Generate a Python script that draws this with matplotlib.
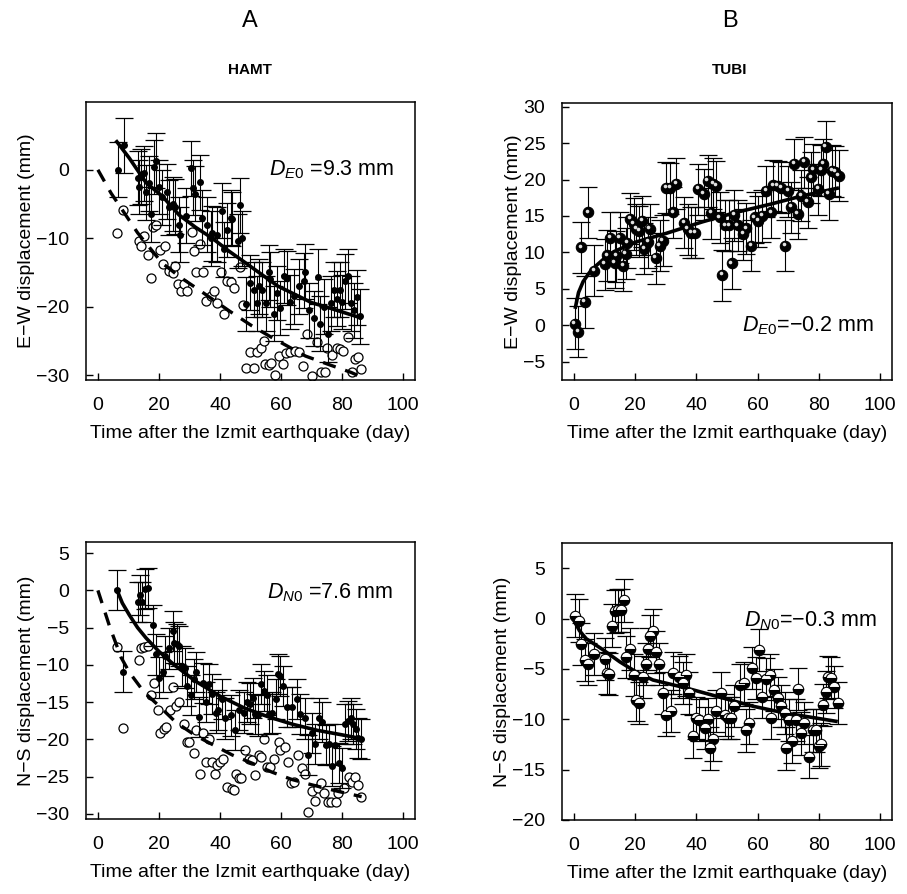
import numpy as np
import matplotlib
matplotlib.use('Agg')
import matplotlib.pyplot as plt
from matplotlib.transforms import offset_copy

plt.rcParams['font.family'] = ['Liberation Sans', 'DejaVu Sans']
plt.rcParams['mathtext.fontset'] = 'custom'
plt.rcParams['mathtext.it'] = 'Liberation Sans:italic'
plt.rcParams['mathtext.rm'] = 'Liberation Sans'

# ---- HAMT, E-W (panel A top) ----
hamt_ew_day = [6.5, 8.4, 13.0, 13.6, 14.0, 15.0, 15.8, 16.8, 17.4, 18.5,
               19.2, 20.0, 21.0, 22.5, 23.4, 24.5, 25.3, 26.6, 27.0, 28.8,
               30.4, 31.3, 31.8, 33.3, 34.2, 35.9, 37.0, 37.5, 39.0, 40.5,
               41.3, 42.4, 43.5, 44.0, 46.0, 46.4, 47.3, 48.4, 50.0, 51.0,
               52.0, 52.7, 53.8, 55.0, 56.0, 56.5, 57.6, 58.7, 59.8, 60.9,
               62.0, 63.0, 64.1, 65.8, 67.4, 68.0, 69.2, 70.7, 72.0, 72.8,
               74.2, 75.5, 76.4, 77.2, 78.3, 79.3, 80.0, 81.0, 82.0, 83.0,
               84.0, 85.0, 86.0]
hamt_ew_val = [0.0, 3.6, -1.2, -2.5, -1.0, -0.5, -3.3, -2.0, -6.5, 0.4,
               1.3, -2.5, -4.0, -3.2, -5.5, -5.0, -5.4, -8.0, -9.5, -6.7,
               0.2, -2.6, -3.5, -1.8, -7.0, -8.0, -10.0, -9.3, -9.5, -6.0,
               -11.6, -8.8, -7.0, -7.2, -10.4, -5.2, -10.0, -19.6, -16.5, -17.5,
               -19.5, -17.0, -17.5, -19.5, -15.0, -16.0, -21.0, -18.0, -20.2, -15.5,
               -15.8, -19.3, -18.5, -17.0, -16.2, -14.9, -20.5, -21.7, -15.6, -22.5,
               -20.0, -24.0, -19.5, -17.5, -18.8, -17.5, -19.3, -16.3, -15.5, -19.5,
               -20.5, -18.6, -21.4]
hamt_ew_err = 4.0

hamt_ew_open_day = [6.2, 8.2, 13.6, 14.1, 15.2, 16.3, 17.4, 18.2, 19.2, 20.3,
                    21.2, 22.1, 23.4, 24.5, 25.3, 26.1, 27.2, 28.3, 29.3, 30.8,
                    31.5, 32.3, 33.4, 34.5, 35.3, 37.0, 38.0, 39.1, 40.2, 41.3,
                    42.4, 43.5, 44.6, 46.4, 47.5, 48.6, 50.0, 51.1, 52.2, 53.3,
                    54.3, 54.9, 56.0, 56.8, 57.9, 59.2, 60.5, 61.6, 63.0, 64.5,
                    65.8, 67.1, 68.5, 70.1, 71.7, 73.2, 74.5, 75.0, 76.6, 78.3,
                    79.3, 80.4, 81.8, 83.2, 84.2, 85.1, 86.2]
hamt_ew_open_val = [-9.2, -5.8, -10.4, -11.1, -9.7, -12.5, -15.8, -8.3, -8.0, -11.7,
                    -13.7, -11.1, -14.8, -15.1, -14.1, -16.7, -17.7, -16.7, -17.7, -9.1,
                    -11.9, -15.0, -10.9, -15.0, -19.2, -18.5, -17.7, -19.4, -15.0, -21.1,
                    -16.3, -16.4, -17.2, -14.2, -19.7, -29.0, -26.6, -29.0, -26.6, -26.0,
                    -25.0, -28.4, -28.5, -28.2, -30.0, -27.2, -28.3, -26.7, -26.6, -26.5,
                    -26.6, -28.6, -24.0, -30.1, -25.1, -29.5, -29.6, -26.0, -27.1, -26.0,
                    -26.1, -26.5, -24.4, -29.6, -27.7, -27.4, -29.1]

hamt_ew_fit_day = [6.2, 10.3, 15.8, 21.2, 26.6, 32.0, 37.5, 43.0, 48.4, 54.0,
                   59.0, 65.0, 70.0, 76.0, 81.0, 86.0]
hamt_ew_fit_val = [4.1, 1.7, -1.9, -3.9, -6.6, -8.4, -10.0, -11.9, -13.6, -15.4,
                   -17.0, -18.3, -19.4, -20.2, -20.9, -21.6]
hamt_ew_dash_day = [0.0, 4.3, 8.2, 13.0, 21.0, 27.0, 33.0, 43.0, 50.5, 57.0,
                    68.0, 76.0, 83.0, 86.0]
hamt_ew_dash_val = [0.0, -3.4, -6.0, -9.2, -13.6, -15.7, -17.5, -20.6, -22.8, -24.5,
                    -27.2, -28.5, -29.6, -30.2]

# ---- HAMT, N-S (panel A bottom) ----
hamt_ns_day = [6.2, 8.2, 13.0, 13.8, 14.6, 15.5, 16.3, 18.2, 19.2, 20.1,
               21.2, 22.0, 23.4, 24.5, 25.0, 25.8, 26.6, 27.7, 28.6, 29.3,
               30.4, 31.5, 32.3, 33.2, 34.5, 35.3, 36.4, 37.3, 38.6, 39.5,
               40.8, 41.8, 43.5, 44.9, 46.2, 47.8, 48.9, 49.7, 50.8, 51.6,
               52.5, 53.6, 54.3, 55.4, 56.2, 57.1, 58.2, 59.0, 59.8, 60.5,
               62.0, 63.6, 65.2, 66.3, 67.9, 69.0, 70.1, 71.2, 72.3, 73.4,
               74.7, 75.8, 76.6, 77.7, 79.0, 80.1, 81.0, 81.8, 82.9, 83.7,
               84.5, 85.3, 86.2]
hamt_ns_val = [0.1, -10.9, -1.6, -0.6, -1.6, 0.2, 0.3, -4.7, -8.6, -11.7,
               -11.0, -8.8, -7.8, -5.5, -7.0, -7.2, -7.5, -10.1, -10.4, -12.8,
               -14.1, -11.9, -11.0, -17.0, -12.4, -15.0, -12.6, -13.9, -16.4, -16.1,
               -14.6, -17.2, -16.8, -18.8, -16.1, -16.4, -15.0, -15.2, -14.4, -16.6,
               -16.8, -12.6, -13.5, -14.1, -16.6, -16.4, -14.6, -11.2, -11.5, -12.8,
               -15.7, -15.7, -14.6, -16.6, -17.2, -22.1, -19.2, -20.6, -17.2, -17.7,
               -20.8, -20.6, -23.6, -20.7, -23.2, -23.8, -17.9, -17.5, -17.2, -17.9,
               -18.6, -19.8, -20.0]
hamt_ns_err = 2.7

hamt_ns_open_day = [6.2, 8.2, 13.6, 14.1, 15.2, 16.3, 17.4, 18.5, 19.6, 20.3,
                    21.7, 22.2, 23.6, 24.5, 25.5, 26.6, 28.3, 29.3, 29.9, 31.5,
                    32.0, 33.4, 34.5, 35.3, 36.4, 37.3, 38.4, 39.1, 39.9, 41.0,
                    42.4, 43.8, 44.6, 45.1, 46.2, 47.0, 48.2, 49.5, 50.5, 51.6,
                    52.7, 53.6, 54.3, 55.4, 56.5, 57.6, 59.2, 59.8, 61.2, 62.3,
                    63.4, 64.1, 65.5, 66.8, 67.7, 68.8, 70.1, 71.0, 72.0, 73.2,
                    74.2, 75.3, 76.4, 77.9, 78.8, 80.8, 82.3, 83.2, 84.2, 85.3,
                    86.2]
hamt_ns_open_val = [-7.6, -18.5, -9.3, -7.8, -7.6, -7.5, -14.0, -12.4, -16.1, -19.2,
                    -18.6, -18.4, -16.0, -13.0, -15.5, -15.0, -17.9, -20.4, -20.3, -21.9,
                    -18.8, -24.7, -19.2, -23.0, -19.9, -23.0, -24.6, -23.5, -23.0, -22.6,
                    -26.4, -26.7, -26.8, -24.6, -25.2, -25.2, -21.5, -22.6, -22.8, -24.8,
                    -22.1, -22.4, -19.9, -23.7, -23.7, -22.6, -20.4, -21.5, -21.0, -23.0,
                    -25.9, -25.7, -22.1, -23.9, -24.6, -29.7, -27.0, -28.3, -26.6, -25.9,
                    -27.2, -28.4, -28.4, -28.4, -27.2, -26.6, -25.0, -25.7, -25.0, -26.1,
                    -27.7]

hamt_ns_fit_day = [6.2, 8.0, 10.3, 13.0, 15.8, 20.0, 25.0, 32.0, 40.0, 48.0,
                   56.0, 64.0, 72.0, 80.0, 86.2]
hamt_ns_fit_val = [0.1, -1.7, -3.3, -5.0, -6.4, -8.2, -10.0, -12.2, -14.2, -15.8,
                   -17.0, -18.0, -18.8, -19.4, -19.9]
hamt_ns_dash_day = [0.0, 3.8, 7.6, 10.3, 15.2, 20.0, 25.5, 32.0, 38.0, 44.0,
                    50.5, 57.0, 63.6, 70.0, 78.8, 86.4]
hamt_ns_dash_val = [0.0, -4.8, -9.0, -11.0, -13.7, -15.5, -17.7, -19.5, -20.8, -22.1,
                    -23.2, -24.4, -25.4, -26.1, -27.0, -27.7]

# ---- TUBI, E-W (panel B top) ----
tubi_ew_day = [0.2, 1.3, 2.4, 3.5, 4.6, 6.7, 10.0, 10.8, 11.9, 13.3,
               13.8, 14.9, 16.0, 16.9, 17.4, 18.4, 19.5, 20.3, 21.4, 22.3,
               23.0, 24.2, 24.7, 26.7, 28.0, 29.0, 30.1, 31.4, 32.5, 33.4,
               36.1, 37.2, 38.3, 39.6, 40.5, 42.4, 43.7, 44.8, 45.4, 46.5,
               47.6, 48.4, 49.5, 50.8, 51.5, 52.4, 53.5, 55.2, 56.3, 57.9,
               59.0, 60.1, 61.5, 62.8, 64.4, 65.0, 66.6, 67.7, 69.1, 69.9,
               71.0, 72.0, 73.1, 74.2, 75.3, 76.4, 77.5, 78.2, 79.7, 80.7,
               81.5, 82.2, 83.2, 84.3, 85.4, 86.5]
tubi_ew_val = [0.2, -0.9, 10.7, 3.2, 15.5, 7.5, 8.4, 9.6, 12.0, 8.6,
               9.5, 12.0, 8.2, 9.8, 11.3, 14.6, 13.9, 13.2, 12.9, 14.3,
               10.5, 11.4, 13.2, 9.2, 10.9, 11.6, 18.9, 18.8, 15.5, 19.4,
               14.1, 13.2, 12.7, 12.7, 18.7, 18.0, 19.8, 15.4, 19.4, 19.1,
               14.8, 6.9, 13.7, 13.7, 8.5, 15.1, 13.7, 12.5, 13.3, 10.9,
               14.8, 14.3, 15.0, 18.4, 15.5, 19.2, 19.1, 18.9, 10.9, 18.4,
               16.2, 22.1, 15.3, 17.8, 22.4, 16.9, 20.3, 21.4, 18.7, 21.3,
               22.1, 24.5, 18.0, 21.2, 21.1, 20.5]
tubi_ew_err = 3.5

tubi_ew_fit_day = [0.5, 1.5, 3.0, 5.0, 7.3, 10.0, 13.0, 20.0, 30.0, 42.0,
                   53.0, 64.0, 75.0, 86.0]
tubi_ew_fit_val = [2.5, 4.5, 6.0, 7.2, 8.2, 9.2, 10.1, 11.4, 12.6, 14.2,
                   15.5, 16.6, 17.8, 18.8]

# ---- TUBI, N-S (panel B bottom) ----
tubi_ns_day = [0.2, 1.8, 2.4, 3.5, 4.6, 6.4, 10.0, 10.8, 11.6, 12.5,
               13.3, 14.4, 15.5, 16.5, 17.1, 18.4, 19.5, 20.3, 21.4, 22.5,
               23.4, 24.2, 24.9, 25.8, 26.9, 27.7, 29.1, 30.1, 31.8, 32.5,
               34.3, 35.6, 36.7, 37.5, 38.8, 39.9, 41.0, 42.7, 43.7, 44.3,
               45.4, 46.5, 48.1, 49.2, 50.3, 51.4, 52.4, 54.1, 55.4, 56.3,
               57.3, 58.2, 59.5, 60.4, 61.5, 62.6, 63.9, 64.4, 65.5, 66.6,
               67.7, 68.8, 69.3, 70.4, 71.3, 72.4, 73.1, 74.2, 75.3, 76.9,
               78.2, 79.1, 80.0, 80.7, 81.5, 82.2, 82.9, 84.0, 84.8, 86.2]
tubi_ns_val = [0.3, -0.2, -2.5, -4.1, -4.5, -3.5, -4.0, -5.4, -5.5, -0.7,
               0.7, 0.8, 0.8, 1.8, -3.8, -3.0, -5.6, -8.1, -8.4, -5.8,
               -4.5, -3.0, -1.7, -1.2, -3.3, -4.5, -7.4, -9.6, -9.2, -5.4,
               -5.8, -6.4, -5.6, -7.4, -11.7, -9.9, -10.1, -10.9, -10.0, -12.9,
               -12.0, -9.2, -7.4, -9.6, -9.9, -9.9, -8.7, -6.6, -6.4, -11.1,
               -10.4, -4.9, -5.9, -3.1, -7.8, -6.0, -5.6, -9.9, -7.1, -7.9,
               -8.7, -9.4, -12.9, -10.1, -12.2, -10.1, -7.0, -11.4, -10.4, -13.7,
               -11.1, -11.1, -12.7, -12.5, -8.6, -7.3, -5.8, -5.9, -6.8, -8.4]
tubi_ns_err = 2.1

tubi_ns_fit_day = [0.2, 1.8, 4.0, 9.5, 15.0, 20.3, 25.8, 36.7, 47.6, 58.4,
                   69.3, 85.6]
tubi_ns_fit_val = [-0.3, -1.2, -2.0, -3.1, -4.3, -5.3, -6.1, -6.9, -7.8, -8.7,
                   -9.4, -10.2]

W, H = 907, 894
fig = plt.figure(figsize=(W / 100, H / 100), dpi=100)


def rect(x0, y0, x1, y1):
    return [x0 / W, 1 - y1 / H, (x1 - x0) / W, (y1 - y0) / H]


ax_a1 = fig.add_axes(rect(86, 102, 415, 380))
ax_b1 = fig.add_axes(rect(562, 103, 892, 380))
ax_a2 = fig.add_axes(rect(86, 542, 415, 819))
ax_b2 = fig.add_axes(rect(562, 543, 892, 820))

err_kw = dict(fmt='none', ecolor='black', elinewidth=0.8, capsize=6.5, capthick=0.9, zorder=3)
fit_kw = dict(color='black', lw=2.6, zorder=4)
dash_kw = dict(color='black', lw=2.4, ls=(0, (4, 3)), zorder=4)


def station_a(ax, day, val, err, oday, oval, fday, fval, dday, dval):
    ax.plot(oday, oval, ls='none', marker='o', ms=6.5, mfc='white', mec='black',
            mew=0.9, zorder=2)
    ax.plot(dday, dval, **dash_kw)
    ax.errorbar(day, val, yerr=err, **err_kw)
    ax.plot(day, val, ls='none', marker='o', ms=4, color='black', zorder=5)
    ax.plot(fday, fval, **fit_kw)


def station_b(ax, day, val, err, fday, fval, light):
    ax.errorbar(day, val, yerr=err, **err_kw)
    if light:
        # half-lit spheres: white top, dark bottom
        ax.plot(day, val, ls='none', marker='o', ms=7.5, mfc='black', mec='black',
                mew=0.8, fillstyle='bottom', markerfacecoloralt='white', zorder=5)
    else:
        ax.plot(day, val, ls='none', marker='o', ms=7.5, mfc='black', mec='black',
                mew=0.8, zorder=5)
        shine = offset_copy(ax.transData, fig=fig, x=-1.0, y=1.3, units='points')
        ax.plot(day, val, ls='none', marker='o', ms=2.6, mfc='#e0e0e0', mec='none',
                transform=shine, zorder=6)
    ax.plot(fday, fval, **fit_kw)


station_a(ax_a1, hamt_ew_day, hamt_ew_val, hamt_ew_err, hamt_ew_open_day,
          hamt_ew_open_val, hamt_ew_fit_day, hamt_ew_fit_val,
          hamt_ew_dash_day, hamt_ew_dash_val)
station_a(ax_a2, hamt_ns_day, hamt_ns_val, hamt_ns_err, hamt_ns_open_day,
          hamt_ns_open_val, hamt_ns_fit_day, hamt_ns_fit_val,
          hamt_ns_dash_day, hamt_ns_dash_val)
station_b(ax_b1, tubi_ew_day, tubi_ew_val, tubi_ew_err, tubi_ew_fit_day, tubi_ew_fit_val, False)
station_b(ax_b2, tubi_ns_day, tubi_ns_val, tubi_ns_err, tubi_ns_fit_day, tubi_ns_fit_val, True)

# axes cosmetics
ax_a1.set_ylim(-30.7, 9.9)
ax_a1.set_yticks([-30, -20, -10, 0])
ax_b1.set_ylim(-7.5, 30.5)
ax_b1.set_yticks([-5, 0, 5, 10, 15, 20, 25, 30])
ax_a2.set_ylim(-30.7, 6.5)
ax_a2.set_yticks([-30, -25, -20, -15, -10, -5, 0, 5])
ax_b2.set_ylim(-20, 7.5)
ax_b2.set_yticks([-20, -15, -10, -5, 0, 5])

for ax in (ax_a1, ax_b1, ax_a2, ax_b2):
    ax.set_xlim(-3.9, 103.9)
    ax.set_xticks([0, 20, 40, 60, 80, 100])
    ax.tick_params(direction='in', length=5, width=1, pad=12, labelsize=14)
    for s in ax.spines.values():
        s.set_linewidth(1.1)
    ax.set_xlabel('Time after the Izmit earthquake (day)', fontsize=14, labelpad=8)

ax_a1.set_ylabel('E\u2212W displacement (mm)', fontsize=14, labelpad=1)
ax_b1.set_ylabel('E\u2212W displacement (mm)', fontsize=14, labelpad=1)
ax_a2.set_ylabel('N\u2212S displacement (mm)', fontsize=14, labelpad=1)
ax_b2.set_ylabel('N\u2212S displacement (mm)', fontsize=14, labelpad=1)

ax_a1.text(56, 0, '$D_{E0}$ =9.3 mm', fontsize=15.5, va='center')
ax_b1.text(55, 0, '$D_{E0}$=\u22120.2 mm', fontsize=15.5, va='center')
ax_a2.text(55.4, -0.3, '$D_{N0}$ =7.6 mm', fontsize=15.5, va='center')
ax_b2.text(55.7, -0.2, '$D_{N0}$=\u22120.3 mm', fontsize=15.5, va='center')

fig.text(250 / W, 1 - 21 / H, 'A', fontsize=17, ha='center', va='center')
fig.text(730 / W, 1 - 21 / H, 'B', fontsize=17, ha='center', va='center')
fig.text(250 / W, 1 - 70 / H, 'HAMT', fontsize=11, fontweight='bold', ha='center', va='center')
fig.text(730 / W, 1 - 70 / H, 'TUBI', fontsize=11, fontweight='bold', ha='center', va='center')

fig.savefig('out.png', dpi=100)
